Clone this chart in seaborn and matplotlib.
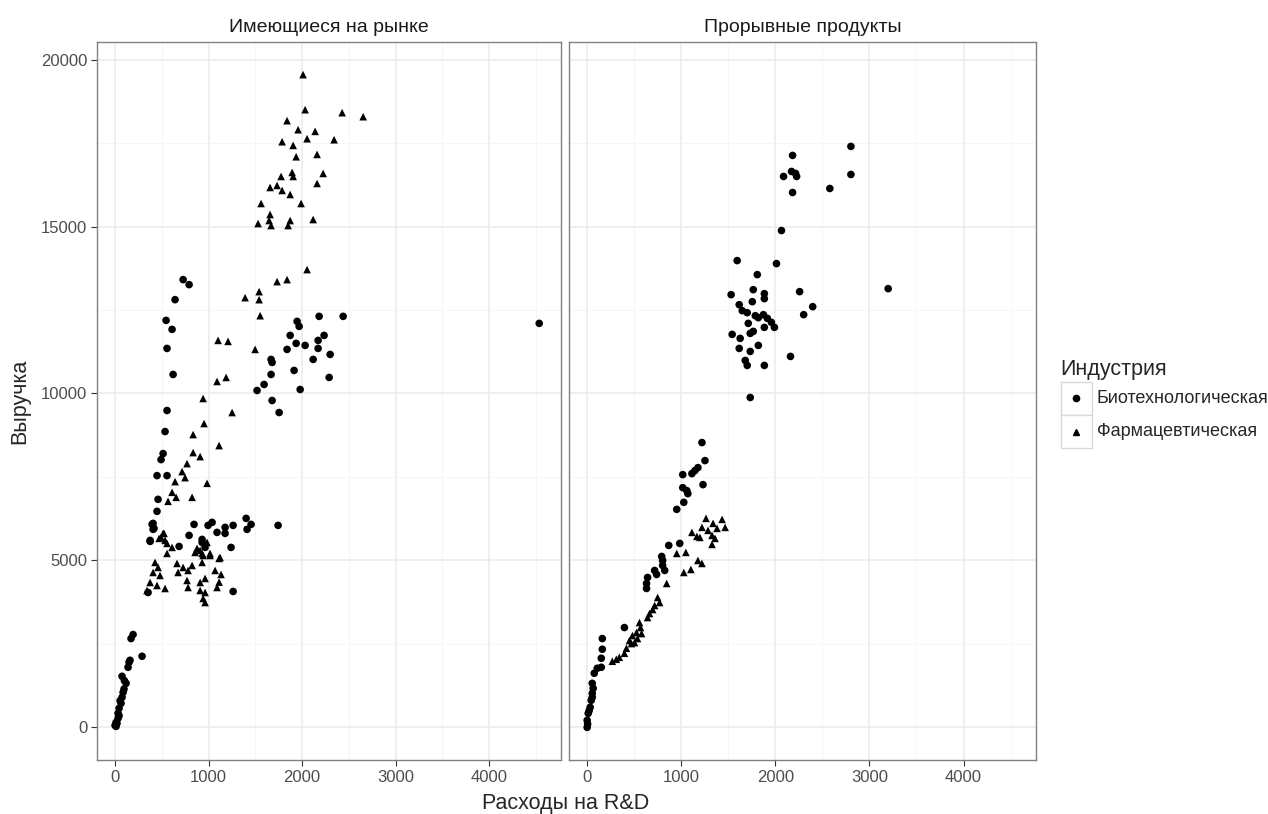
import pandas as pd
import seaborn as sns
import matplotlib.pyplot as plt
from matplotlib.patches import Rectangle
from matplotlib.lines import Line2D
from matplotlib.ticker import MultipleLocator

# Data (R&D spend vs revenue)
panels = ["Имеющиеся на рынке", "Прорывные продукты"]
industries = ["Биотехнологическая", "Фармацевтическая"]

left_bio_x = [728, 792, 642, 546, 610, 4537, 2183, 2440, 1947, 1969, 1873, 2236, 2172, 1937, 2033,
              1840, 2172, 2301, 1669, 1680, 2119, 1915, 1669, 2290, 1594, 1519, 1980, 1680, 1755,
              556, 621, 556, 535, 514, 492, 449, 556, 460, 449, 407, 407, 375, 845, 792, 685, 995,
              1038, 1091, 1177, 1177, 1263, 1402, 1412, 1455, 1744, 1241, 1263, 931, 963, 396, 417,
              375, 931, 353,
              193, 171, 289, 160, 139, 75, 118, 86, 75, 64, 43, 32, 32, 21, 11, 54, 96, 43, 11, 0,
              150, 100]
left_bio_y = [13410, 13260, 12810, 12190, 11920, 12100, 12310, 12310, 12160, 12010, 11740, 11740,
              11590, 11500, 11440, 11320, 11350, 11170, 11020, 10930, 11020, 10690, 10570, 10480,
              10270, 10090, 10120, 9790, 9430,
              11350, 10570, 9490, 8860, 8200, 8020, 7540, 7540, 6830, 6470, 6110, 5930, 5600, 6080,
              5750, 5420, 6050, 6140, 5840, 5990, 5810, 6050, 6260, 5930, 6080, 6050, 5390, 4070,
              5630, 5390, 6080, 5960, 5570, 5540, 4040,
              2780, 2660, 2130, 2010, 1800, 1530, 1320, 1050, 900, 720, 570, 420, 270, 120, 30, 800,
              1150, 350, 150, 60, 1950, 1400]

left_pharma_x = [2011, 2033, 2429, 2654, 1840, 1958, 2140, 2054, 2343, 1787, 1905, 1937, 2161, 1894,
                 1905, 1776, 2226, 2161, 1658, 1733, 1787, 1873, 1990, 1562, 1658, 1648, 1530, 1669,
                 1873, 1851, 2119, 2054, 1733, 1840, 1391, 1541, 1541, 1552, 1102, 1209, 1498,
                 1091, 1188, 942, 1252, 952, 835, 1113, 835, 910, 770, 717, 749, 642, 984, 610, 653,
                 567, 824, 524, 471,
                 514, 535, 610, 556, 428, 460, 407, 481, 375, 449, 342, 535, 663, 674, 728, 781, 824,
                 770, 781, 931, 942, 1016, 910, 856, 1113, 963, 910, 1134, 1091, 910, 963, 942, 963,
                 1113, 1070, 492, 556, 877, 931, 984, 1016, 1123]
left_pharma_y = [19550, 18500, 18410, 18290, 18170, 17900, 17850, 17630, 17600, 17540, 17430, 17090,
                 17160, 16620, 16500, 16500, 16590, 16290, 16170, 16230, 16080, 15960, 15690, 15690,
                 15360, 15180, 15090, 15030, 15180, 15030, 15210, 13710, 13350, 13410, 12870, 13050,
                 12810, 12330, 11590, 11560, 11320,
                 10360, 10480, 9850, 9430, 9100, 8770, 8440, 8230, 8110, 7900, 7660, 7480, 7360,
                 7310, 7040, 6890, 6770, 6890, 5810, 5660,
                 5810, 5600, 5390, 5210, 4940, 4790, 4640, 4550, 4340, 4250, 4100, 4160, 4910, 4640,
                 4790, 4700, 4850, 4400, 4190, 4940, 5150, 5210, 5300, 5240, 5060, 4460, 4340, 4580,
                 4190, 4100, 4040, 3860, 3740, 4350, 4700, 5690, 5510, 5360, 5210, 5540, 5150, 5090]

right_bio_x = [2803, 2183, 2803, 2087, 2172, 2226, 2215, 2579, 2183, 2065, 1594, 2012, 1808, 1530,
               1765, 1883, 1883, 2258, 3199, 1755, 1616, 2397, 1648, 1701, 1787, 1819, 1873, 1915,
               1958, 1990, 2301, 1712, 1883, 1765, 1733, 1541, 1626, 1819, 1616, 1733, 2161, 1680,
               1701, 1883, 1733,
               1220, 1252, 1177, 1145, 1113, 1016, 1231, 1016, 1059, 1070, 1027, 952, 867, 984, 792,
               802, 802, 824, 717, 738, 642, 631, 631, 396, 161, 161, 150, 150, 107, 75, 54, 54, 43,
               32, 11, 0, 0, 64, 54, 21, 5]
right_bio_y = [17400, 17130, 16560, 16500, 16650, 16500, 16590, 16140, 16020, 14880, 13980, 13890,
               13560, 12960, 13110, 12990, 12840, 13050, 13140, 12750, 12660, 12600, 12480, 12420,
               12330, 12270, 12360, 12250, 12130, 11980, 12360, 12100, 11980, 11860, 11800, 11770,
               11650, 11440, 11350, 11260, 11110, 10990, 10840, 10840, 9880,
               8530, 7990, 7780, 7690, 7600, 7570, 7270, 7180, 7090, 7000, 6740, 6530, 5450, 5510,
               5120, 5000, 4850, 4700, 4700, 4580, 4490, 4310, 4160, 2990, 2660, 2340, 2070, 1800,
               1770, 1620, 1320, 1020, 810, 600, 420, 210, 0, 1170, 900, 500, 100]

right_pharma_x = [1263, 1434, 1338, 1220, 1380, 1466, 1113, 1284, 1166, 1198, 1327, 1359, 1327, 952,
                  1049, 1220, 1177, 1102, 1027, 845, 749, 770, 717, 696, 663, 642, 556, 567, 524,
                  481, 449, 471, 417, 396, 342, 310, 267, 535, 503, 578]
right_pharma_y = [6260, 6230, 6110, 5990, 5960, 5990, 5840, 5900, 5720, 5690, 5750, 5660, 5480, 5210,
                  5240, 4910, 5000, 4730, 4640, 4310, 3890, 3740, 3650, 3530, 3410, 3290, 3140, 2990,
                  2840, 2750, 2600, 2510, 2370, 2220, 2100, 2040, 1980, 2660, 2540, 2810]

frames = []
for panel, ind, xs, ys in [
    (panels[0], industries[0], left_bio_x, left_bio_y),
    (panels[0], industries[1], left_pharma_x, left_pharma_y),
    (panels[1], industries[0], right_bio_x, right_bio_y),
    (panels[1], industries[1], right_pharma_x, right_pharma_y),
]:
    frames.append(pd.DataFrame({"rd": xs, "revenue": ys, "panel": panel, "industry": ind}))
df = pd.concat(frames, ignore_index=True)

sns.set_style("white")
plt.rcParams["font.family"] = ["Liberation Sans", "DejaVu Sans"]

fig = plt.figure(figsize=(12.68, 8.14), dpi=100)
W, H = 1268, 814
ax_l = fig.add_axes([97 / W, (H - 760) / H, (561 - 97) / W, (760 - 42) / H])
ax_r = fig.add_axes([569 / W, (H - 760) / H, (1036 - 569) / W, (760 - 42) / H])

markers = {industries[0]: "o", industries[1]: "^"}

for ax, panel in zip([ax_l, ax_r], panels):
    sub = df[df["panel"] == panel]
    sns.scatterplot(data=sub, x="rd", y="revenue", style="industry", markers=markers,
                    style_order=industries, color="black", s=30, linewidth=0,
                    legend=False, ax=ax, zorder=3)
    ax.set_xlim(-193, 4770)
    ax.set_ylim(-977, 20527)
    ax.xaxis.set_major_locator(MultipleLocator(1000))
    ax.xaxis.set_minor_locator(MultipleLocator(500))
    ax.yaxis.set_major_locator(MultipleLocator(5000))
    ax.yaxis.set_minor_locator(MultipleLocator(2500))
    ax.grid(which="major", color="#ebebeb", linewidth=1.1, zorder=0)
    ax.grid(which="minor", color="#f5f5f5", linewidth=0.6, zorder=0)
    ax.set_axisbelow(True)
    for sp in ax.spines.values():
        sp.set_color("#808080")
        sp.set_linewidth(1.0)
    ax.tick_params(axis="both", which="major", length=4, width=0.8, color="#333333",
                   labelsize=12, labelcolor="#4d4d4d", pad=3, bottom=True, left=True)
    ax.tick_params(which="minor", length=0)
    ax.set_title(panel, fontsize=14, color="#1a1a1a", pad=7)
    ax.set_xlabel("")
    ax.set_ylabel("")

ax_r.tick_params(axis="y", left=False, labelleft=False)

fig.text(566 / W, 1 - 804 / H, "Расходы на R&D", ha="center", va="center", fontsize=15.5)
fig.text(20 / W, 1 - 401 / H, "Выручка", ha="center", va="center", rotation=90, fontsize=15.5)

# legend drawn as ggplot-like key boxes
fig.text(1060 / W, 1 - 369 / H, "Индустрия", ha="left", va="center", fontsize=15.5)
key_rows = [(382, 415), (415, 448)]
for (top, bot), ind in zip(key_rows, industries):
    fig.add_artist(Rectangle((1061 / W, 1 - bot / H), 31 / W, (bot - top) / H,
                             transform=fig.transFigure, facecolor="white",
                             edgecolor="#d9d9d9", linewidth=1))
    cy = 1 - (top + bot) / 2 / H
    fig.add_artist(Line2D([1076 / W], [cy], marker=markers[ind], color="black",
                          markersize=4.5, linestyle="none", transform=fig.transFigure))
    fig.text(1097 / W, cy, ind, ha="left", va="center", fontsize=13)

fig.savefig("out.png", dpi=100)
